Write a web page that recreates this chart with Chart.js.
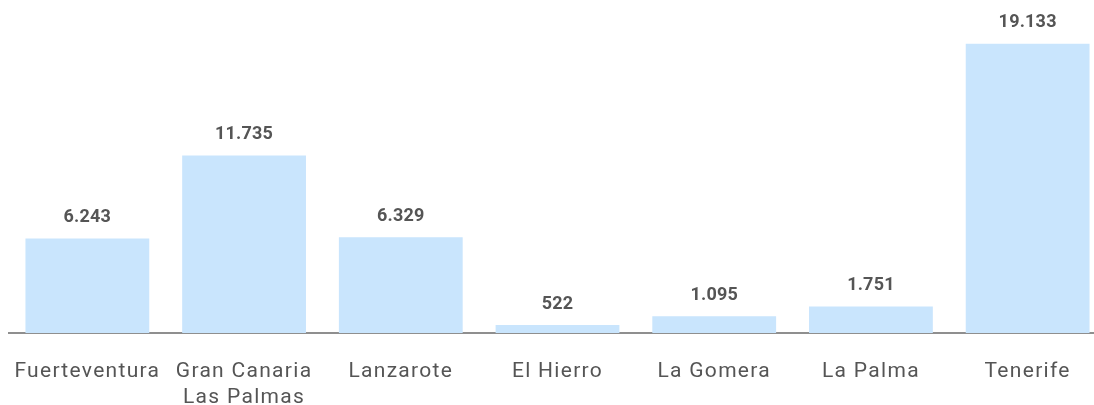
<!DOCTYPE html>
<html>
<head>
<meta charset="utf-8">
<script src="https://cdn.jsdelivr.net/npm/chart.js@4"></script>
<style>
  html, body { margin: 0; padding: 0; background: #fff; overflow: hidden; }
  #wrap { width: 1106px; height: 405px; }
</style>
</head>
<body>
<div id="wrap"><canvas id="chartIslas"></canvas></div>
<script>
// islas y número de registros
const islas = ['Fuerteventura', ['Gran Canaria', 'Las Palmas'], 'Lanzarote', 'El Hierro', 'La Gomera', 'La Palma', 'Tenerife'];
const valores = [6243, 11735, 6329, 522, 1095, 1751, 19133];

function fmt(n) {
    return String(n).replace(/\B(?=(\d{3})+(?!\d))/g, '.');
}

// un poco de espaciado entre letras, como el original
const espaciado = {
    id: 'espaciado',
    beforeLayout(chart) { chart.ctx.letterSpacing = '1.3px'; },
    beforeDraw(chart) { chart.ctx.letterSpacing = '1.3px'; }
};

// etiqueta de valor encima de cada barra
const etiquetas = {
    id: 'etiquetas',
    afterDatasetsDraw(chart) {
        const ctx = chart.ctx;
        ctx.save();
        ctx.letterSpacing = '0.2px';
        ctx.font = 'bold 18px Roboto';
        ctx.fillStyle = '#555';
        ctx.textAlign = 'center';
        ctx.textBaseline = 'middle';
        chart.getDatasetMeta(0).data.forEach((bar, i) => {
            ctx.fillText(fmt(valores[i]), bar.x, bar.y - 21);
        });
        ctx.restore();
    }
};

new Chart(document.getElementById('chartIslas'), {
    type: 'bar',
    data: {
        labels: islas,
        datasets: [{ data: valores, backgroundColor: '#c9e5fd', categoryPercentage: 1, barPercentage: 0.79 }]
    },
    options: {
        responsive: true,
        maintainAspectRatio: false,
        animation: false,
        layout: { padding: { top: 17, left: 9, right: 0, bottom: -32 } },
        plugins: { legend: { display: false }, tooltip: { enabled: false } },
        scales: {
            y: { display: false, min: 0, max: 20900 },
            x: {
                afterFit(scale) { scale.paddingLeft = 0; scale.paddingRight = 0; },
                grid: { display: false, drawTicks: false },
                border: { display: true, color: '#8f8f8f', width: 2 },
                ticks: { color: '#555', font: { family: 'Roboto', size: 21, lineHeight: 1.24 }, padding: 26, maxRotation: 0, autoSkip: false }
            }
        }
    },
    plugins: [espaciado, etiquetas]
});
</script>
</body>
</html>
